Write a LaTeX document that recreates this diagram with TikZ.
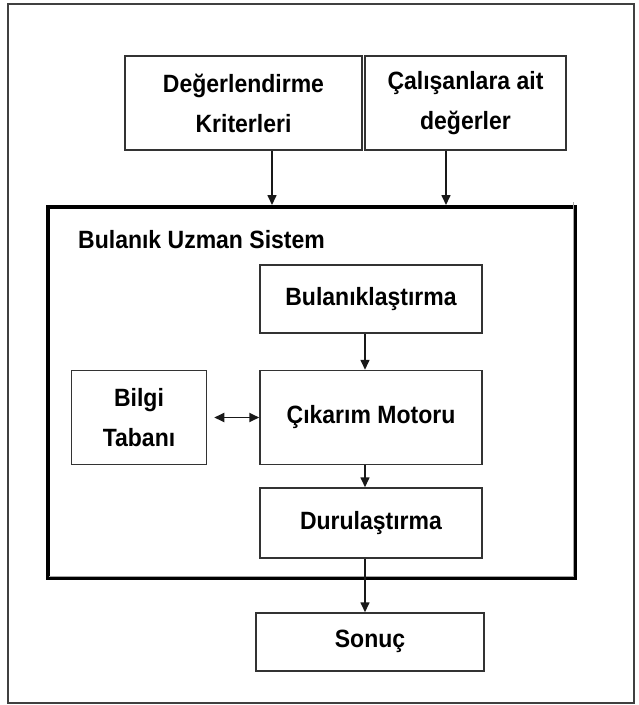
\documentclass[tikz,border=0pt]{standalone}
\usepackage{fontspec}
\setmainfont{Liberation Sans}[FakeStretch=0.92]
\usetikzlibrary{positioning,arrows.meta}

\tikzset{
  box/.style={draw=black!80, line width=1.5pt, align=center, inner sep=0pt,
    font=\bfseries\fontsize{25}{40}\selectfont},
  arr/.style={-{Triangle[length=10pt,width=9pt]}, line width=1.6pt, draw=black!90},
  darr/.style={{Triangle[length=10pt,width=9pt]}-{Triangle[length=10pt,width=9pt]}, line width=1.8pt, draw=black!90}
}

\begin{document}
\begin{tikzpicture}[x=1pt,y=-1pt]
      \useasboundingbox (0,0) rectangle (638,705);
      % Frame
      \draw[black!75, line width=1.5pt] (8,4) rectangle (634,703);

      % Nodes
      \node (krit) [box, minimum width=237pt, minimum height=94pt] at (243.5,103) {Değerlendirme\\Kriterleri};
      \node (calis) [box, minimum width=201pt, minimum height=94pt] at (465.5,103) {Çalışanlara ait\\değerler};
      \node (bus) [draw, line width=4pt, minimum width=527pt, minimum height=371pt, inner sep=0pt] at (311.5,392.5) {};
      \node (title) [anchor=base west, inner sep=0pt, font=\bfseries\fontsize{25}{40}\selectfont] at (78,248) {Bulanık Uzman Sistem};
      \node (bulan) [box, minimum width=222pt, minimum height=68pt] at (371,299) {Bulanıklaştırma};
      \node (cikar) [box, minimum width=222pt, minimum height=94pt, below=36pt of bulan] {Çıkarım Motoru};
      \node (bilgi) [box, minimum width=135pt, minimum height=94pt, left=52pt of cikar] {Bilgi\\Tabanı};
      \node (durul) [box, minimum width=222pt, minimum height=70pt, below=22pt of cikar] {Durulaştırma};
      \node (sonuc) [box, minimum width=228pt, minimum height=58pt] at (370,642) {\raisebox{6pt}{Sonuç}};

      % inner shade line of the big box
      \draw[black!35, line width=1pt] ([xshift=-4pt,yshift=3pt]bus.north east) -- ([xshift=-4pt,yshift=4pt]bus.south east) -- ([xshift=3pt,yshift=4pt]bus.south west);

      % Arrows
      \draw[arr] ([xshift=28.5pt]krit.south) -- ([xshift=28.5pt]krit.south |- bus.north);
      \draw[arr] ([xshift=-19.5pt]calis.south) -- ([xshift=-19.5pt]calis.south |- bus.north);
      \draw[arr] ([xshift=-6pt]bulan.south) -- ([xshift=-6pt]cikar.north);
      \draw[darr, shorten <=7pt] (bilgi.east) -- (cikar.west);
      \draw[arr] ([xshift=-6pt]cikar.south) -- ([xshift=-6pt]durul.north);
      \draw[arr] ([xshift=-6pt]durul.south) -- ([xshift=-6pt]durul.south |- sonuc.north);

  \end{tikzpicture}
\end{document}
